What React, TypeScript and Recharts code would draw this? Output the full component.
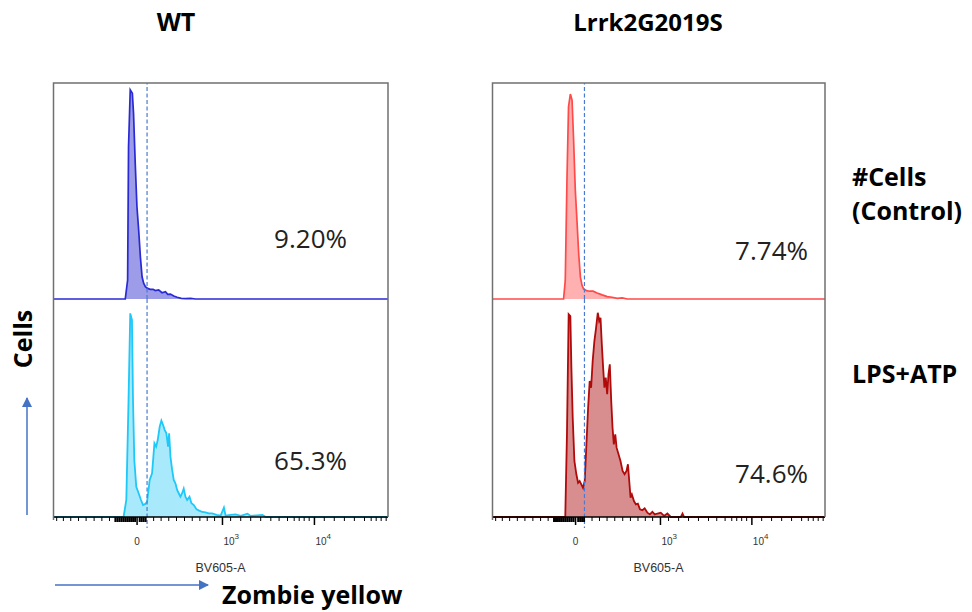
import React from "react";
import { AreaChart, Area, XAxis, YAxis, ReferenceLine } from "recharts";

type Pt = [number, number];

// x: display channel (0-255 across the plot, logicle BV605-A scale), y: % of mode
const wtControl: Pt[] = [
  [55, 0], [56.8, 8.8], [57.5, 70.5], [58.8, 96.8], [60.4, 95.2], [61.3, 86], [62.6, 62.8],
  [63.9, 42.7], [65.2, 32], [66.5, 19.6], [67.8, 10.3], [69, 7.3], [70.3, 5.7], [72, 4.9],
  [74.1, 4.5], [76.2, 4.5], [77.9, 3.9], [80.4, 4.2], [83, 2.9], [85.6, 3.4], [87.3, 2.2],
  [89.4, 2.3], [91.9, 1.4], [94.5, 0.8], [97.6, 0.3], [100.8, 0.2], [104.7, 0.3], [108.5, 0],
];

const wtLps: Pt[] = [
  [53.7, 0], [55.8, 7.8], [57.5, 53.7], [58.8, 93.4], [60.1, 90.4], [60.9, 53.7], [61.9, 26],
  [63.4, 13.9], [65.2, 10.9], [67, 7.8], [68.5, 5.5], [70.3, 6], [71.6, 7], [73.6, 17],
  [75.4, 20], [77.2, 33.8], [78.5, 32.3], [79.7, 35.3], [81.2, 41.4], [82.5, 44.2],
  [83.8, 42.2], [85, 40], [86.3, 38.4], [87.6, 32.3], [88.4, 38.4], [89.4, 27.7],
  [90.7, 21.6], [91.9, 17], [93.2, 15.5], [94.5, 12.4], [95.7, 10.9], [97, 9.3],
  [98.3, 10.9], [99.5, 13], [100.8, 9.3], [102.1, 7.8], [103.9, 9.3], [105.4, 6.3],
  [107.2, 5.5], [109.3, 3.5], [111.3, 2.9], [113.6, 2.3], [116.1, 2.1], [118.6, 1.7],
  [121.2, 1.7], [124.5, 1], [127.6, 0.6], [130.1, 4.3], [131.4, 0.6], [135.2, 1],
  [139, 1.2], [142.9, 0.5], [148, 1.5], [150.5, 0.5], [159.4, 1], [162, 0],
];

const lrrkControl: Pt[] = [
  [54.8, 0], [56.1, 8.5], [57.4, 55], [58.6, 89], [60, 94.9], [61.3, 92.1], [62.5, 73.5],
  [63.8, 50.3], [65.2, 34.8], [66.4, 20.9], [67.7, 10.1], [69, 6.2], [70.2, 4.6], [72.3, 3.9],
  [74.8, 3.6], [77.4, 3.6], [80.5, 2.8], [84.4, 1.9], [88.2, 1.1], [92, 0.8], [95.9, 0.3],
  [99.7, 0.5], [103.6, 0],
];

const lrrkLps: Pt[] = [
  [56.1, 0], [57.4, 37.9], [58.7, 93], [60, 92.2], [60.8, 68.5], [61.8, 45.6], [63.1, 25.7],
  [64.6, 19.6], [65.9, 15.7], [67.1, 16.5], [68.4, 15], [69.7, 13.4], [71, 16.5], [72.3, 33.3],
  [73.6, 50.1], [74.8, 62.4], [75.9, 59.3], [77.1, 71.6], [78.4, 80.7], [79.7, 86.8],
  [81, 93.7], [82.1, 89.9], [83.1, 91.4], [84.1, 79.2], [85.1, 68.5], [86.1, 59.3],
  [87.1, 63.9], [88.2, 56.3], [89.2, 65.5], [90.2, 70], [91.3, 53.2], [92.3, 41],
  [93.3, 33.3], [94.4, 37.9], [95.4, 31.8], [96.9, 28.8], [98.4, 25.7], [100, 21.1],
  [101.5, 19.6], [103, 21.1], [104.1, 24.2], [105.1, 16.5], [106.1, 8.9], [107.1, 10.4],
  [108.7, 7.3], [110.2, 5.8], [111.7, 6.1], [113.3, 3.5], [115.1, 3.1], [116.9, 4],
  [119, 2], [120.9, 1.2], [122.8, 2.4], [124.6, 1.2], [126.7, 1.6], [129.2, 2],
  [131.8, 0.5], [134.3, 1.6], [136.9, 0], [144.6, 0], [145.9, 1.6], [147.1, 0],
];

const groups = ["WT", "Lrrk2G2019S"];
const percents = [["9.20%", "65.3%"], ["7.74%", "74.6%"]];
const gates = [71.6, 70.8];

// axis ticks (display channels)
const majorTicks = [64, 129, 199];
const tickLabels = ["0", "10^3", "10^4"];
const minorTicks = [
  2.8, 7.9, 13.5, 19.4, 25.2, 31.3, 37.2, 43, 76.6, 82.3, 88.1, 94, 100.1, 106, 111.8,
  117.4, 123, 135.2, 142.9, 150.5, 158.1, 165.8, 172.1, 178.5, 183.6, 187.4, 191.2, 195,
  206.5, 214.1, 221.8, 229.4, 237.1, 242.2, 246, 249.8, 253.6,
];
const denseTicks = [47.5, 49, 50.5, 52, 53.5, 55, 56.5, 58, 59.5, 61, 62.5, 66, 67.5, 69, 70.5];
const allTicks = [...minorTicks, ...denseTicks, ...majorTicks].sort((a, b) => a - b);

const toRows = (pts: Pt[]) => [
  { x: 0, y: 0 },
  ...pts.map(([x, y]) => ({ x, y })),
  { x: 255, y: 0 },
];

const AxisTick = (props: any) => {
  const { x, y, payload } = props;
  const v = payload.value;
  const mi = majorTicks.indexOf(v);
  if (mi >= 0) {
    const [base, exp] = tickLabels[mi].split("^");
    return (
      <g>
        <line x1={x} x2={x} y1={y} y2={y + 8} stroke="#000" strokeWidth={1.5} />
        <text
          x={exp ? x + 1 : x}
          y={y + 28}
          textAnchor={exp ? "start" : "middle"}
          fontSize={10}
          fill="#333"
        >
          {base}
          {exp && (
            <tspan dy={-6} fontSize={8}>
              {exp}
            </tspan>
          )}
        </text>
      </g>
    );
  }
  const dense = denseTicks.includes(v);
  return (
    <line
      x1={x}
      x2={x}
      y1={y}
      y2={y + (dense ? 5 : 4)}
      stroke="#000"
      strokeWidth={dense ? 2 : 1}
    />
  );
};

type PanelProps = {
  left: number;
  width: number;
  top: Pt[];
  bottom: Pt[];
  topColors: [string, string];
  bottomColors: [string, string];
  gate: number;
};

const Panel = ({ left, width, top, bottom, topColors, bottomColors, gate }: PanelProps) => (
  <>
    <div style={{ position: "absolute", left, top: 83 }}>
      <AreaChart width={width} height={218} data={toRows(top)} margin={{ top: 0, right: 0, bottom: 2, left: 0 }}>
        <XAxis type="number" dataKey="x" domain={[0, 255]} hide />
        <YAxis type="number" domain={[0, 100]} hide />
        <Area
          type="linear"
          dataKey="y"
          stroke={topColors[0]}
          strokeWidth={1.7}
          fill={topColors[1]}
          fillOpacity={1}
          isAnimationActive={false}
        />
        <ReferenceLine x={gate} stroke="#4a7bd0" strokeWidth={1.2} strokeDasharray="4 2.5" />
      </AreaChart>
    </div>
    <div style={{ position: "absolute", left, top: 299 }}>
      <AreaChart width={width} height={282} data={toRows(bottom)} margin={{ top: 0, right: 0, bottom: 0, left: 0 }}>
        <YAxis type="number" domain={[0, 100]} hide />
        <Area
          type="linear"
          dataKey="y"
          stroke={bottomColors[0]}
          strokeWidth={1.8}
          fill={bottomColors[1]}
          fillOpacity={1}
          isAnimationActive={false}
        />
        <ReferenceLine
          segment={[{ x: gate, y: 100 }, { x: gate, y: -5 }]}
          ifOverflow="visible"
          stroke="#4a7bd0"
          strokeWidth={1.2}
          strokeDasharray="4 2.5"
        />
        <XAxis
          type="number"
          dataKey="x"
          domain={[0, 255]}
          ticks={allTicks}
          interval={0}
          height={64}
          tickSize={0}
          tickMargin={0}
          tickLine={false}
          tick={<AxisTick />}
          axisLine={{ stroke: "#000", strokeWidth: 1.5 }}
          label={{ value: "BV605-A", position: "insideBottom", offset: 9, fontSize: 12.5, fill: "#333" }}
        />
      </AreaChart>
    </div>
  </>
);

const bold = { fontFamily: "'Open Sans', sans-serif", fontWeight: 700, fill: "#000" };
const regular = { fontFamily: "'Open Sans', sans-serif", fill: "#222" };

export default function App() {
  return (
    <div
      style={{
        position: "absolute",
        left: 0,
        top: 0,
        width: 972,
        height: 612,
        background: "#fff",
        fontFamily: "'Liberation Sans', Arial, sans-serif",
      }}
    >
      <Panel
        left={53}
        width={335}
        top={wtControl}
        bottom={wtLps}
        topColors={["#2a2ad4", "#9c9ce8"]}
        bottomColors={["#1ec8f8", "#a8e9fb"]}
        gate={gates[0]}
      />
      <Panel
        left={492}
        width={333}
        top={lrrkControl}
        bottom={lrrkLps}
        topColors={["#ff4a4a", "#ffb0b0"]}
        bottomColors={["#b00a0a", "#d88e8e"]}
        gate={gates[1]}
      />
      <svg
        width={972}
        height={612}
        style={{ position: "absolute", left: 0, top: 0, pointerEvents: "none" }}
      >
        <defs>
          <marker id="arrow" viewBox="0 0 10 10" refX="9" refY="5" markerWidth="7" markerHeight="7" orient="auto">
            <path d="M0,0 L10,5 L0,10 z" fill="#4472c4" />
          </marker>
        </defs>
        {/* frames */}
        <polyline points="53.5,520 53.5,83 388,83 388,517" fill="none" stroke="#707070" strokeWidth={1.5} />
        <polyline points="492.5,520 492.5,83 825,83 825,517" fill="none" stroke="#707070" strokeWidth={1.5} />

        <text x={176} y={31} textAnchor="middle" fontSize={25} {...bold}>{groups[0]}</text>
        <text x={648} y={31} textAnchor="middle" fontSize={24} {...bold}>{groups[1]}</text>

        <text x={347} y={248} textAnchor="end" fontSize={26} {...regular}>{percents[0][0]}</text>
        <text x={347} y={470} textAnchor="end" fontSize={26} {...regular}>{percents[0][1]}</text>
        <text x={808} y={260} textAnchor="end" fontSize={26} {...regular}>{percents[1][0]}</text>
        <text x={808} y={483} textAnchor="end" fontSize={26} {...regular}>{percents[1][1]}</text>

        <text x={852} y={186} fontSize={25} {...bold}>#Cells</text>
        <text x={852} y={220} fontSize={25} {...bold}>(Control)</text>
        <text x={852} y={383} fontSize={25} {...bold}>LPS+ATP</text>

        <text x={0} y={0} transform="translate(32,339) rotate(-90)" textAnchor="middle" fontSize={25} {...bold}>Cells</text>
        <line x1={27} y1={515} x2={27} y2={398} stroke="#4472c4" strokeWidth={1.5} markerEnd="url(#arrow)" />
        <line x1={55} y1={585} x2={208} y2={585} stroke="#4472c4" strokeWidth={1.5} markerEnd="url(#arrow)" />
        <text x={222} y={604} fontSize={25} {...bold}>Zombie yellow</text>
      </svg>
    </div>
  );
}
